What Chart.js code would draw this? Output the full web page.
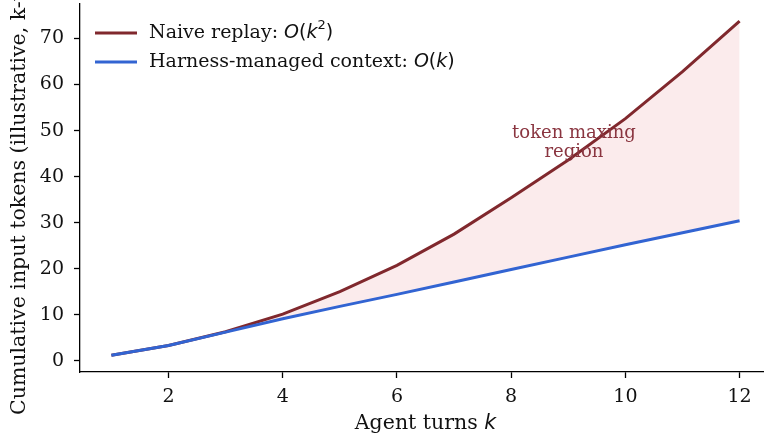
<!DOCTYPE html>
<html>
<head>
<meta charset="utf-8">
<script src="https://cdn.jsdelivr.net/npm/chart.js@4"></script>
<style>
  html, body { margin: 0; padding: 0; background: #fff; overflow: hidden; }
  #wrap { width: 772px; height: 440px; }
</style>
</head>
<body>
<div id="wrap"><canvas id="chart" width="772" height="440"></canvas></div>
<script>
const turns = [1, 2, 3, 4, 5, 6, 7, 8, 9, 10, 11, 12];
const naiveReplay = [1.2, 3.3, 6.3, 10.1, 15.0, 20.7, 27.5, 35.4, 43.6, 52.6, 62.8, 73.8];
const harnessManaged = [1.2, 3.3, 6.2, 9.1, 11.8, 14.4, 17.1, 19.8, 22.5, 25.2, 27.8, 30.4];
const xTicks = [2, 4, 6, 8, 10, 12];
const yTicks = [0, 10, 20, 30, 40, 50, 60, 70];

const RED = '#80282d';
const BLUE = '#3264d2';
const SERIF = '"DejaVu Serif", serif';
const SANS = '"DejaVu Sans", sans-serif';

// draws a run of text pieces with different fonts (mathtext-ish)
function drawRuns(ctx, runs, x, y) {
    let cx = x;
    runs.forEach(r => {
        ctx.font = r.font;
        ctx.fillText(r.t, cx, y + (r.dy || 0));
        cx += ctx.measureText(r.t).width;
    });
    return cx;
}
function runsWidth(ctx, runs) {
    let w = 0;
    runs.forEach(r => { ctx.font = r.font; w += ctx.measureText(r.t).width; });
    return w;
}

const extras = {
    id: 'extras',
    afterDraw(chart) {
        const ctx = chart.ctx;
        const area = chart.chartArea;
        const xs = chart.scales.x, ys = chart.scales.y;
        ctx.save();
        ctx.textBaseline = 'middle';
        ctx.textAlign = 'left';

        // legend
        const fs = 19;
        const legend = [
            { color: RED, y: 33, runs: [
                { t: 'Naive replay: ', font: fs + 'px ' + SERIF },
                { t: 'O', font: 'oblique ' + fs + 'px ' + SANS },
                { t: '(', font: fs + 'px ' + SANS },
                { t: 'k', font: 'oblique ' + fs + 'px ' + SANS },
                { t: '2', font: Math.round(fs * 0.7) + 'px ' + SANS, dy: -7 },
                { t: ')', font: fs + 'px ' + SANS }
            ] },
            { color: BLUE, y: 62, runs: [
                { t: 'Harness-managed context: ', font: fs + 'px ' + SERIF },
                { t: 'O', font: 'oblique ' + fs + 'px ' + SANS },
                { t: '(', font: fs + 'px ' + SANS },
                { t: 'k', font: 'oblique ' + fs + 'px ' + SANS },
                { t: ')', font: fs + 'px ' + SANS }
            ] }
        ];
        legend.forEach(item => {
            ctx.strokeStyle = item.color;
            ctx.lineWidth = 3;
            ctx.beginPath();
            ctx.moveTo(95, item.y);
            ctx.lineTo(137, item.y);
            ctx.stroke();
            ctx.fillStyle = '#111';
            drawRuns(ctx, item.runs, 149, item.y);
        });

        // annotation
        ctx.fillStyle = '#8a3540';
        ctx.textAlign = 'center';
        ctx.font = '18px ' + SERIF;
        const ax = xs.getPixelForValue(9.1);
        const ay = ys.getPixelForValue(47.5);
        ctx.fillText('token maxing', ax, ay - 9);
        ctx.fillText('region', ax, ay + 10);

        // x axis title
        ctx.textAlign = 'left';
        ctx.fillStyle = '#111';
        const xr = [
            { t: 'Agent turns ', font: '20.5px ' + SERIF },
            { t: 'k', font: 'oblique 20.5px ' + SANS }
        ];
        const cxm = (area.left + area.right) / 2;
        drawRuns(ctx, xr, cxm - runsWidth(ctx, xr) / 2, 424);

        // y axis title (runs off the top of the figure, as in the source)
        ctx.translate(20, 415);
        ctx.rotate(-Math.PI / 2);
        ctx.textAlign = 'left';
        ctx.font = '20.5px ' + SERIF;
        ctx.fillText('Cumulative input tokens (illustrative, k-tokens)', 0, 0);
        ctx.restore();
    }
};

const ctx = document.getElementById('chart').getContext('2d');
const myChart = new Chart(ctx, {
    type: 'line',
    data: {
        datasets: [{
            label: 'Naive replay: O(k²)',
            data: turns.map((k, i) => ({ x: k, y: naiveReplay[i] })),
            borderColor: RED,
            borderWidth: 3,
            backgroundColor: 'rgba(230, 120, 130, 0.15)',
            fill: '+1',
            pointRadius: 0,
            tension: 0,
            order: 1
        }, {
            label: 'Harness-managed context: O(k)',
            data: turns.map((k, i) => ({ x: k, y: harnessManaged[i] })),
            borderColor: BLUE,
            borderWidth: 3,
            fill: false,
            pointRadius: 0,
            tension: 0,
            order: 0
        }]
    },
    options: {
        responsive: false,
        animation: false,
        layout: { padding: { top: 4, right: 1, left: 0, bottom: 0 } },
        plugins: {
            legend: { display: false },
            tooltip: { enabled: false }
        },
        scales: {
            x: {
                type: 'linear',
                min: 0.45,
                max: 12.55,
                afterBuildTicks: s => { s.ticks = xTicks.map(v => ({ value: v })); },
                afterFit: s => { s.height = 68; s.paddingLeft = 0; s.paddingRight = 0; },
                border: { display: true, color: '#000', width: 1.3 },
                grid: { drawOnChartArea: false, drawTicks: true, tickLength: 6, tickColor: '#000', tickWidth: 1.3 },
                ticks: { color: '#111', padding: 8, maxRotation: 0, font: { family: SERIF, size: 19 } }
            },
            y: {
                min: -2.46,
                max: 77.5,
                afterBuildTicks: s => { s.ticks = yTicks.map(v => ({ value: v })); },
                afterFit: s => { s.width = 80; s.paddingTop = 0; s.paddingBottom = 0; },
                border: { display: true, color: '#000', width: 1.3 },
                grid: { drawOnChartArea: false, drawTicks: true, tickLength: 6, tickColor: '#000', tickWidth: 1.3 },
                ticks: { color: '#111', padding: 10, font: { family: SERIF, size: 19 } }
            }
        }
    },
    plugins: [extras]
});
</script>
</body>
</html>
